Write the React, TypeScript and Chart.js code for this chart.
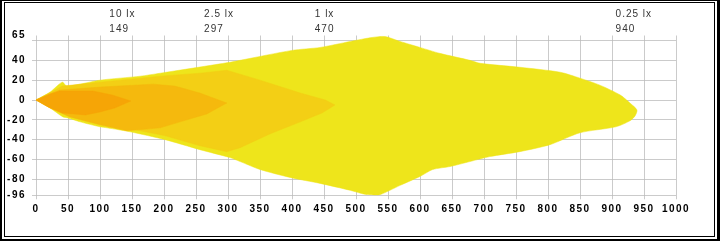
import React, { useEffect, useRef } from "react";
import { Chart, registerables } from "chart.js";

Chart.register(...registerables);

// ---- Axis data ----
const xMin = 0;
const xMax = 1000;
const xStep = 50;
const yMin = -96;
const yMax = 65;
const yTickLabels = [65, 40, 20, 0, -20, -40, -60, -80, -96];
const yGridValues = [60, 40, 20, 0, -20, -40, -60, -80, -96];

// ---- Top annotations ----
const topLabelNames = ["10 lx", "2.5 lx", "1 lx", "0.25 lx"];
const topLabelValues = [149, 297, 470, 940];

// ---- Isolux contours (x = distance, y = lateral) ----
const lux025X = [0, 22, 41, 48, 69, 100, 163, 194, 303, 319, 400, 444, 491, 525, 545, 569, 600, 631, 678, 694, 756, 819, 850, 881, 913, 928, 939, 936, 928, 906, 850, 803, 756, 709, 678, 647, 620, 600, 569, 553, 534, 514, 491, 444, 397, 350, 319, 303, 256, 202, 147, 111, 100, 69, 50, 42, 22];
const lux025Y = [0, 8, 18, 14, 16, 20, 24, 27, 38, 40, 50, 53, 59, 63, 64, 59, 53, 47, 40, 37, 33, 28, 22, 15, 5, -3, -10, -16, -21, -27, -33, -45, -52, -57, -62, -67, -70, -77, -86, -91, -96, -95, -91, -84, -78, -70, -62, -58, -50, -40, -32, -28, -27, -22, -18, -17, -8];

const lux1X = [0, 30, 41, 100, 194, 256, 298, 350, 413, 452, 467, 447, 413, 366, 319, 298, 256, 202, 147, 100, 50, 22];
const lux1Y = [0, 10, 14, 18, 24, 27, 30, 20, 7, 0, -5, -13, -22, -34, -48, -52, -46, -36, -29, -24, -15, -6];

const lux25X = [0, 37, 100, 183, 217, 256, 298, 267, 225, 194, 142, 100, 53, 22];
const lux25Y = [0, 10, 13, 16, 14, 7, -3, -14, -22, -28, -31, -25, -17, -8];

const lux10X = [0, 22, 37, 89, 119, 148, 123, 100, 77, 41, 19];
const lux10Y = [0, 6, 9, 9, 5, -1, -8, -12, -15, -13, -7];

const colors = {
  lux025: "#EEE51B",
  lux1: "#F3CF15",
  lux25: "#F5B90D",
  lux10: "#F6A506",
};
const gridColor = "rgba(185,185,185,0.75)";

function toPoints(xs: number[], ys: number[]) {
  const pts = xs.map((x, i) => ({ x, y: ys[i] }));
  pts.push({ x: xs[0], y: ys[0] });
  return pts;
}

function poly(label: string, xs: number[], ys: number[], color: string, order: number, tension: number) {
  return {
    label,
    data: toPoints(xs, ys),
    fill: "shape" as any,
    backgroundColor: color,
    borderColor: color,
    borderWidth: 0.5,
    pointRadius: 0,
    tension,
    order,
  };
}

const frameAndLabels = {
  id: "frameAndLabels",
  beforeDraw(chart: any) {
    chart.ctx.letterSpacing = "1.5px";
  },
  afterDraw(chart: any) {
    const ctx = chart.ctx as CanvasRenderingContext2D;
    const xs = chart.scales.x;
    ctx.save();
    (ctx as any).letterSpacing = "1px";
    ctx.font = '10px "Liberation Sans"';
    ctx.fillStyle = "#333";
    ctx.textAlign = "left";
    ctx.textBaseline = "middle";
    topLabelValues.forEach((v, i) => {
      const px = xs.getPixelForValue(v) - 22;
      ctx.fillText(topLabelNames[i], px, 14.5);
      ctx.fillText(String(v), px, 29);
    });
    // double frame
    ctx.fillStyle = "#000";
    const W = chart.width;
    const H = chart.height;
    ctx.fillRect(0, 0, W, 1);
    ctx.fillRect(0, 0, 2, H);
    ctx.fillRect(W - 3, 0, 3, H);
    ctx.fillRect(0, H - 2, W, 2);
    ctx.fillRect(4, 2, 711, 1);
    ctx.fillRect(4, 2, 1, 235);
    ctx.fillRect(714, 2, 1, 235);
    ctx.fillRect(4, 236, 711, 1);
    ctx.restore();
  },
};

export default function App() {
  const ref = useRef<HTMLCanvasElement | null>(null);
  useEffect(() => {
    if (!ref.current) return;
    Chart.defaults.font.family = '"Liberation Sans"';
    const chart = new Chart(ref.current, {
      type: "line",
      data: {
        datasets: [
          poly("10 lx", lux10X, lux10Y, colors.lux10, 1, 0),
          poly("2.5 lx", lux25X, lux25Y, colors.lux25, 2, 0),
          poly("1 lx", lux1X, lux1Y, colors.lux1, 3, 0),
          poly("0.25 lx", lux025X, lux025Y, colors.lux025, 4, 0.25),
        ] as any,
      },
      options: {
        animation: false,
        responsive: false,
        events: [],
        layout: { padding: { left: 0, right: 44, top: 35.5, bottom: 0 } },
        plugins: { legend: { display: false }, tooltip: { enabled: false } },
        scales: {
          x: {
            type: "linear",
            min: xMin,
            max: xMax,
            z: 1,
            border: { display: false },
            grid: { color: gridColor, tickLength: 4 },
            ticks: {
              stepSize: xStep,
              autoSkip: false,
              maxRotation: 0,
              padding: 4,
              color: "#000",
              font: { size: 10, weight: "bold" },
              callback: (v: any) => String(v),
            },
            afterFit(scale: any) {
              scale.height = 45.7;
            },
          },
          y: {
            type: "linear",
            min: yMin,
            max: yMax,
            z: 1,
            border: { display: false },
            grid: {
              tickLength: 4,
              color: (c: any) =>
                c.tick && yGridValues.indexOf(c.tick.value) < 0 ? "rgba(0,0,0,0)" : gridColor,
            },
            afterBuildTicks(scale: any) {
              const vals = Array.from(new Set([...yTickLabels, ...yGridValues])).sort((a, b) => a - b);
              scale.ticks = vals.map((v) => ({ value: v }));
            },
            ticks: {
              autoSkip: false,
              padding: 6,
              color: "#000",
              font: { size: 10, weight: "bold" },
              callback: (v: any) => (yTickLabels.indexOf(Number(v)) >= 0 ? String(v) : ""),
            },
            afterFit(scale: any) {
              scale.width = 36;
            },
          },
        },
      } as any,
      plugins: [frameAndLabels],
    });
    return () => chart.destroy();
  }, []);
  return (
    <div style={{ position: "fixed", left: 0, top: 0, width: 720, height: 241, background: "#fff" }}>
      <canvas ref={ref} width={720} height={241} style={{ display: "block" }} />
    </div>
  );
}
